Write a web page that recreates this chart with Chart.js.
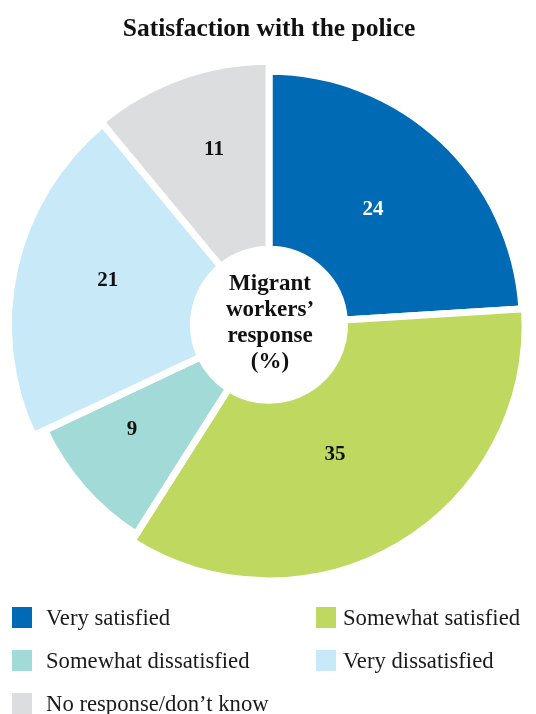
<!DOCTYPE html>
<html>
<head>
<meta charset="utf-8">
<script src="https://cdn.jsdelivr.net/npm/chart.js@4.4.1/dist/chart.umd.min.js"></script>
<style>
  html, body { margin: 0; padding: 0; background: #fff; }
  #wrap { position: relative; width: 536px; height: 714px; overflow: hidden; }
  #chart { position: absolute; left: 0; top: 0; }
  .sw { position: absolute; width: 20px; height: 21px; }
  .lt { position: absolute; font-family: "Liberation Serif", "DejaVu Serif", serif; font-size: 22.7px;
        line-height: 21px; height: 21px; color: #1a1a1a; white-space: nowrap; }
</style>
</head>
<body>
<div id="wrap">
  <canvas id="chart" width="536" height="714"></canvas>
  <div id="legend"></div>
</div>
<script>
// Survey answers, share of respondents in percent
const categories = ['Very satisfied', 'Somewhat satisfied', 'Somewhat dissatisfied', 'Very dissatisfied', 'No response/don\u2019t know'];
const shares = [24, 35, 9, 21, 11];
const centerLines = ['Migrant', 'workers\u2019', 'response', '(%)'];
const chartTitle = 'Satisfaction with the police';

// Styling
const sliceColors = ['#006ab4', '#bfd960', '#a1dad6', '#c7e9f8', '#dcdddf'];
const valueColors = ['#ffffff', '#111111', '#111111', '#111111', '#111111'];
const radiusFactors = [0.960, 0.970, 0.939, 0.987, 0.998];      // outer radius of each slice vs. ring radius
const labelSpots = [                                              // value label: radius share and angular nudge (deg)
  { r: 0.587, turn: -1.0 },
  { r: 0.553, turn: 3.7 },
  { r: 0.654, turn: 3.9 },
  { r: 0.633, turn: 2.7 },
  { r: 0.697, turn: 2.4 }
];
const serif = '"Liberation Serif", "DejaVu Serif", serif';

// Each slice keeps its own outer radius
const unevenRings = {
  id: 'unevenRings',
  afterDatasetUpdate(chart, args) {
    const ctrl = args.meta.controller;
    args.meta.data.forEach((arc, i) => {
      arc.outerRadius = ctrl.outerRadius * radiusFactors[i];
    });
  }
};

// Values on the slices and the caption in the hole
const sliceText = {
  id: 'sliceText',
  afterDatasetsDraw(chart) {
    const meta = chart.getDatasetMeta(0);
    const R = meta.controller.outerRadius;
    const ctx = chart.ctx;
    ctx.save();
    ctx.textAlign = 'center';
    ctx.textBaseline = 'middle';
    ctx.font = 'bold 21px ' + serif;
    meta.data.forEach((arc, i) => {
      const a = (arc.startAngle + arc.endAngle) / 2 + labelSpots[i].turn * Math.PI / 180;
      const r = R * labelSpots[i].r;
      ctx.fillStyle = valueColors[i];
      ctx.fillText(String(shares[i]), arc.x + Math.cos(a) * r, arc.y + Math.sin(a) * r);
    });
    const arc0 = meta.data[0];
    ctx.textBaseline = 'alphabetic';
    ctx.font = 'bold 23px ' + serif;
    ctx.fillStyle = '#111111';
    centerLines.forEach((line, k) => {
      ctx.fillText(line, arc0.x + 1, arc0.y - 35 + k * 26);
    });
    ctx.restore();
  }
};

const chart = new Chart(document.getElementById('chart'), {
  type: 'doughnut',
  data: {
    labels: categories,
    datasets: [{
      data: shares,
      backgroundColor: sliceColors,
      borderColor: '#ffffff',
      borderWidth: 7,
      borderJoinStyle: 'round'
    }]
  },
  options: {
    responsive: false,
    animation: false,
    events: [],
    radius: 264,
    cutout: '28.6%',
    layout: { padding: { top: 0, left: 2, right: 0, bottom: 119 } },
    plugins: {
      legend: { display: false },
      tooltip: { enabled: false },
      title: {
        display: true,
        text: chartTitle,
        color: '#111111',
        font: { family: serif, size: 25.5, weight: 'bold' },
        padding: { top: 14, bottom: 10 }
      }
    }
  },
  plugins: [unevenRings, sliceText]
});

// Two-column legend under the chart
const legendBox = document.getElementById('legend');
const colSwatchX = [12, 316];
const colTextX = [46, 343];
const rowTop = 607, rowPitch = 43;
categories.forEach((name, i) => {
  const col = i % 2, row = Math.floor(i / 2);
  const top = rowTop + row * rowPitch;
  const sw = document.createElement('div');
  sw.className = 'sw';
  sw.style.left = colSwatchX[col] + 'px';
  sw.style.top = top + 'px';
  sw.style.background = sliceColors[i];
  const tx = document.createElement('div');
  tx.className = 'lt';
  tx.style.left = colTextX[col] + 'px';
  tx.style.top = top + 'px';
  tx.textContent = name;
  legendBox.appendChild(sw);
  legendBox.appendChild(tx);
});
</script>
</body>
</html>
